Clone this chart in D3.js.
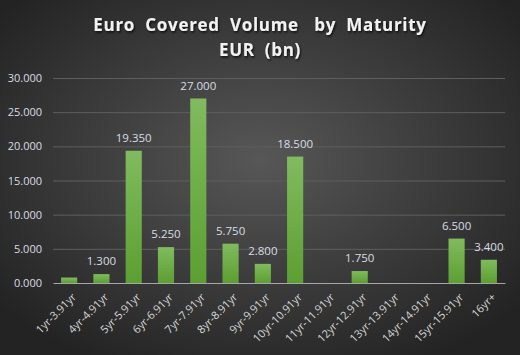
<!DOCTYPE html>
<html><head><meta charset="utf-8">
<script src="https://cdn.jsdelivr.net/npm/d3@7"></script>
<style>html,body{margin:0;padding:0;background:#333;}svg{display:block;}</style>
</head><body>
<svg id="c" width="520" height="355"></svg>
<script>
const categories = ["1yr-3.91yr","4yr-4.91yr","5yr-5.91yr","6yr-6.91yr","7yr-7.91yr","8yr-8.91yr","9yr-9.91yr","10yr-10.91yr","11yr-11.91yr","12yr-12.91yr","13yr-13.91yr","14yr-14.91yr","15yr-15.91yr","16yr+"];
const values = [800, 1300, 19350, 5250, 27000, 5750, 2800, 18500, 0, 1750, 0, 0, 6500, 3400];
const labels = ["", "1.300", "19.350", "5.250", "27.000", "5.750", "2.800", "18.500", "", "1.750", "", "", "6.500", "3.400"];
const yTicks = [0, 5000, 10000, 15000, 20000, 25000, 30000];
const titleLines = ["Euro  Covered  Volume   by  Maturity", "EUR  (bn)"];

const svg = d3.select("#c");
const W = 520, H = 355;
const defs = svg.append("defs");
const rg = defs.append("radialGradient").attr("id","bg").attr("cx","50%").attr("cy","45%").attr("r","65%");
rg.append("stop").attr("offset","0%").attr("stop-color","#575757");
rg.append("stop").attr("offset","100%").attr("stop-color","#232323");
const bg = defs.append("linearGradient").attr("id","bar").attr("x1",0).attr("x2",0).attr("y1",0).attr("y2",1);
bg.append("stop").attr("offset","0%").attr("stop-color","#80bb5e");
bg.append("stop").attr("offset","100%").attr("stop-color","#5c9f31");
const sh = defs.append("filter").attr("id","ts").attr("x","-10%").attr("y","-10%").attr("width","120%").attr("height","140%");
sh.append("feDropShadow").attr("dx",1).attr("dy",1.5).attr("stdDeviation",1).attr("flood-color","#000").attr("flood-opacity",0.8);

svg.append("rect").attr("width",W).attr("height",H).attr("fill","url(#bg)");

const m = {left:53, right:505, top:78, bottom:283};
const x = d3.scaleBand().domain(categories).range([m.left, m.right]).paddingInner(0.5).paddingOuter(0.25);
const y = d3.scaleLinear().domain([0,30000]).range([m.bottom, m.top]);

// gridlines
svg.append("g").selectAll("line").data(yTicks.filter(d=>d>0)).join("line")
  .attr("x1",m.left).attr("x2",m.right).attr("y1",d=>y(d)+0.5).attr("y2",d=>y(d)+0.5)
  .attr("stroke","#5e5e5e").attr("stroke-width",1);

// y axis
const ya = svg.append("g").attr("transform",`translate(${m.left},0)`)
  .call(d3.axisLeft(y).tickValues(yTicks).tickSize(0).tickPadding(11).tickFormat(d=>(d/1000).toFixed(3)));
ya.select(".domain").remove();
ya.selectAll("text").attr("fill","#d9dde3").attr("font-family","'Open Sans', sans-serif").attr("font-size","11px");

// bars
svg.append("g").selectAll("rect").data(categories).join("rect")
  .attr("x",d=>x(d)).attr("width",x.bandwidth())
  .attr("y",(d,i)=>y(values[i])).attr("height",(d,i)=>y(0)-y(values[i]))
  .attr("fill","url(#bar)");

// value labels
svg.append("g").selectAll("text").data(categories).join("text")
  .attr("x",d=>x(d)+x.bandwidth()/2).attr("y",(d,i)=>y(values[i])-9)
  .attr("text-anchor","middle").attr("fill","#d9dde3")
  .attr("font-family","'Open Sans', sans-serif").attr("font-size","11.5px")
  .text((d,i)=>labels[i]);

// x axis
const xa = svg.append("g").attr("transform",`translate(0,${m.bottom})`)
  .call(d3.axisBottom(x).tickSize(0).tickPadding(0));
xa.select(".domain").attr("stroke","#a6a6a6").attr("stroke-width",1.2);
xa.selectAll("text")
  .attr("fill","#d9d9d9").attr("font-family","'Open Sans', sans-serif").attr("font-size","11px")
  .attr("text-anchor","end").attr("dy","0.35em")
  .attr("transform","translate(5,12) rotate(-45)");

// title
const t = svg.append("text").attr("text-anchor","middle").attr("fill","#f2f2f2")
  .attr("font-family","'Open Sans', sans-serif").attr("font-weight","bold").attr("font-size","17px")
  .attr("letter-spacing","0.7px").attr("filter","url(#ts)").style("white-space","pre");
t.append("tspan").attr("x",260).attr("y",31).text(titleLines[0]);
t.append("tspan").attr("x",260).attr("y",56).text(titleLines[1]);
</script>
</body></html>
